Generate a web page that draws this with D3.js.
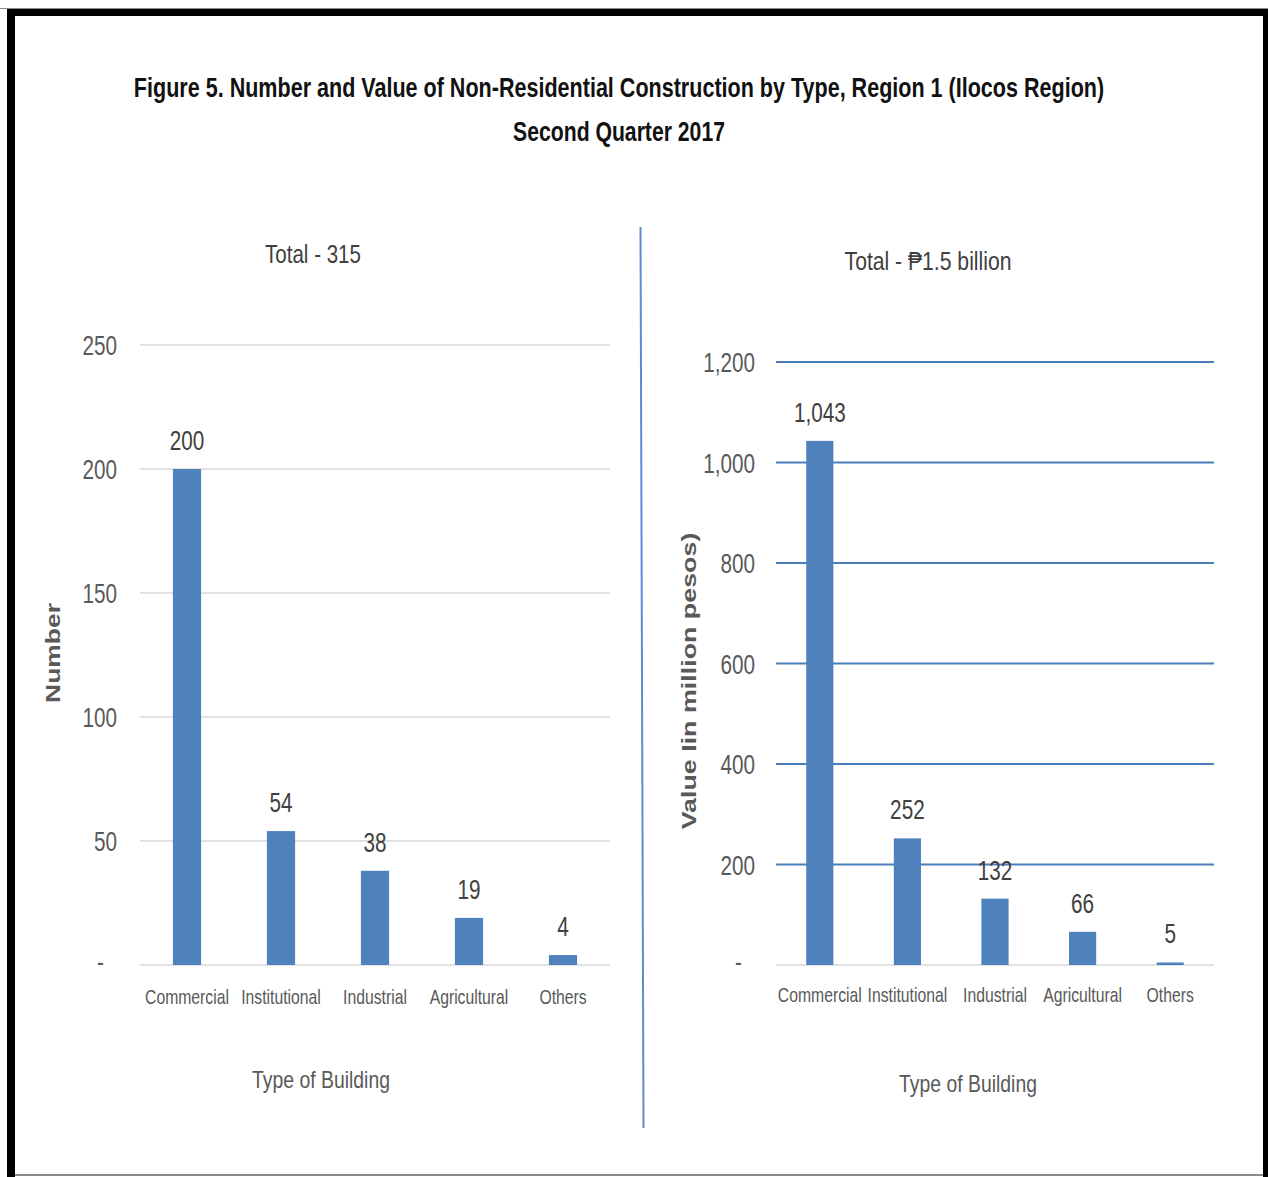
<!DOCTYPE html>
<html><head><meta charset="utf-8">
<script src="https://cdn.jsdelivr.net/npm/d3@7/dist/d3.min.js"></script>
<style>body{margin:0;background:#fff}svg{display:block}</style>
</head><body>
<svg id="c" width="1268" height="1177"></svg>
<script>
// ---- data ----
const categories = ["Commercial", "Institutional", "Industrial", "Agricultural", "Others"];
const numberValues = [200, 54, 38, 19, 4];
const valueMillions = [1043, 252, 132, 66, 5];
const numberTicks = [0, 50, 100, 150, 200, 250];
const valueTicks = [0, 200, 400, 600, 800, 1000, 1200];
const titleLines = ["Figure 5. Number and Value of Non-Residential Construction by Type, Region 1 (Ilocos Region)", "Second Quarter 2017"];
const leftTotal = "Total - 315";
const rightTotal = "Total - \u20B11.5 billion";
const leftYTitle = "Number";
const rightYTitle = "Value Iin million pesos)";
const xTitle = "Type of Building";

const svg = d3.select("#c");
const FONT = "'Liberation Sans', Arial, sans-serif";
const NARROW = "'Liberation Sans Narrow', 'Arial Narrow', 'Liberation Sans', Arial, sans-serif";
const BAR = "#4f81bd";

// helper: text squeezed horizontally by transform (factor sx, or to a target length)
function txt(g, x, y, s, o) {
  const t = g.append("text").attr("x", 0).attr("y", 0).text(s)
    .attr("font-family", o.family || FONT).attr("font-size", o.size)
    .attr("font-weight", o.weight || "normal")
    .attr("fill", o.fill || "#595959")
    .attr("text-anchor", o.anchor || "middle");
  const L = t.node().getComputedTextLength();
  const k = o.len != null ? o.len / L : (o.sx || 1);
  t.attr("transform", `translate(${x},${y})${o.rotate ? " rotate(-90)" : ""} scale(${k},1)`);
  return t;
}

// ---- frame ----
svg.append("rect").attr("x", 0).attr("y", 8).attr("width", 1268).attr("height", 1).attr("fill", "#8a8a8a");
svg.append("rect").attr("x", 7).attr("y", 9).attr("width", 1261).attr("height", 7).attr("fill", "#000");
svg.append("rect").attr("x", 7).attr("y", 9).attr("width", 8).attr("height", 1168).attr("fill", "#000");
svg.append("rect").attr("x", 1263).attr("y", 9).attr("width", 5).attr("height", 1168).attr("fill", "#000");
svg.append("rect").attr("x", 15).attr("y", 1174).attr("width", 1248).attr("height", 2).attr("fill", "#8a8a8a");

// ---- title ----
txt(svg, 619, 97, titleLines[0], {size: 28, weight: "bold", fill: "#111", len: 971, family: NARROW});
txt(svg, 619, 141, titleLines[1], {size: 28, weight: "bold", fill: "#111", len: 212, family: NARROW});

// divider
svg.append("line").attr("x1", 640.5).attr("y1", 227).attr("x2", 643.5).attr("y2", 1128)
  .attr("stroke", "#5b8bd0").attr("stroke-width", 2);

// ---- chart builder ----
function chart(cfg) {
  const g = svg.append("g");
  const y = d3.scaleLinear().domain(cfg.domain).range([965, cfg.yTop]);
  const x = d3.scaleBand().domain(categories).range(cfg.xRange).paddingInner(cfg.pIn).paddingOuter(cfg.pOut);

  // gridlines
  g.selectAll("line.grid").data(cfg.ticks).join("line")
    .attr("x1", cfg.xRange[0]).attr("x2", cfg.xRange[1])
    .attr("y1", d => y(d)).attr("y2", d => y(d))
    .attr("stroke", d => d === 0 ? "#d9d9d9" : cfg.gridColor)
    .attr("stroke-width", d => d === 0 ? 1.5 : cfg.gridWidth);

  // tick labels (zero shown as a dash, as in accounting format)
  cfg.ticks.forEach(d => {
    if (d === 0) txt(g, cfg.tickX - 13, y(d) + 6, "-", {size: 28, anchor: "end", sx: 0.74});
    else txt(g, cfg.tickX, y(d) + 10, cfg.fmt(d), {size: 28, anchor: "end", sx: 0.74});
  });

  // bars
  g.selectAll("rect.bar").data(cfg.values).join("rect")
    .attr("x", (d, i) => x(categories[i]))
    .attr("width", x.bandwidth())
    .attr("y", d => y(d))
    .attr("height", d => 965 - y(d))
    .attr("fill", BAR);

  // value labels
  cfg.values.forEach((d, i) => {
    txt(g, x(categories[i]) + x.bandwidth() / 2, y(d) - 19, cfg.fmt(d), {size: 28, fill: "#404040", sx: 0.74});
  });

  // category labels
  categories.forEach((c, i) => {
    txt(g, x(c) + x.bandwidth() / 2, cfg.catY, c, {size: 21, sx: 0.75});
  });

  // titles
  txt(g, cfg.totalX, cfg.totalY, cfg.total, {size: 25, fill: "#404040", len: cfg.totalLen});
  txt(g, cfg.xTitleX, cfg.xTitleY, xTitle, {size: 23, len: 138});
  txt(g, cfg.yTitleX, cfg.yTitleY, cfg.yTitle, {size: 20, weight: "bold", rotate: true, len: cfg.yTitleLen});
}

chart({
  domain: [0, 250], yTop: 345, ticks: numberTicks, values: numberValues,
  xRange: [140, 610], pIn: 0.7, pOut: 0.35,
  gridColor: "#d9d9d9", gridWidth: 1.5, tickX: 117, fmt: d3.format(","),
  catY: 1004, total: leftTotal, totalX: 313, totalY: 263, totalLen: 96,
  xTitleX: 321, xTitleY: 1088, yTitle: leftYTitle, yTitleX: 60, yTitleY: 653, yTitleLen: 100
});

chart({
  domain: [0, 1200], yTop: 362, ticks: valueTicks, values: valueMillions,
  xRange: [776, 1214], pIn: 0.69, pOut: 0.345,
  gridColor: "#4a7ebb", gridWidth: 2, tickX: 755, fmt: d3.format(","),
  catY: 1002, total: rightTotal, totalX: 928, totalY: 270, totalLen: 167,
  xTitleX: 968, xTitleY: 1092, yTitle: rightYTitle, yTitleX: 696, yTitleY: 681, yTitleLen: 297
});
</script>
</body></html>
